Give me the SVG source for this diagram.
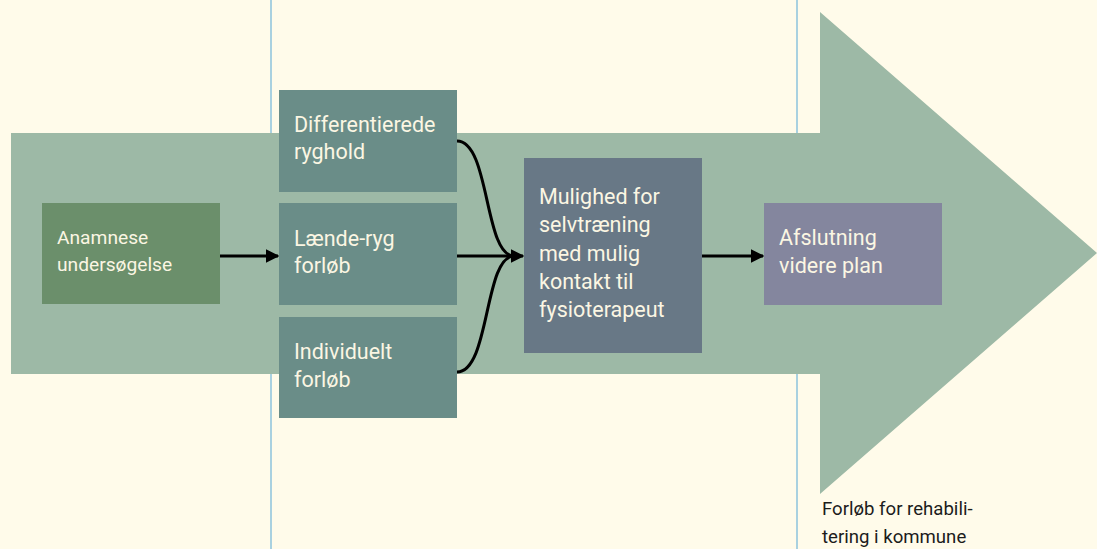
<svg xmlns="http://www.w3.org/2000/svg" width="1097" height="549" viewBox="0 0 1097 549">
<defs>
<style>
.bg{fill:#fffbea}
.vline{stroke:#8cc3dd;stroke-width:1.5;fill:none}
.big{fill:#9db9a6}
.t{font-family:Roboto,"Liberation Sans",sans-serif;fill:#fbf6e3}
.t18{font-size:21.5px}
.t16{font-size:19.2px}
.cap{font-family:Roboto,"Liberation Sans",sans-serif;font-size:18.6px;fill:#1c1c1c}
.edge{stroke:#000;stroke-width:3;fill:none}
</style>
<marker id="ah" viewBox="0 0 10 10" refX="9" refY="5" markerWidth="4.5" markerHeight="4.5" orient="auto" markerUnits="strokeWidth">
<path d="M0,0 L10,5 L0,10 z" fill="#000"/>
</marker>
</defs>
<rect class="bg" x="0" y="0" width="1097" height="549"/>
<g id="background">
<line class="vline" x1="271" y1="0" x2="271" y2="549"/>
<line class="vline" x1="797" y1="0" x2="797" y2="549"/>
<polygon class="big" points="11,133 820,133 820,12 1097,253 820,494 820,374 11,374"/>
</g>
<g id="n-anamnese">
<rect x="42" y="203" width="178" height="101" fill="#6b8f6b"/>
<text class="t t16" x="57" y="244">Anamnese</text>
<text class="t t16" x="57" y="271">undersøgelse</text>
</g>
<g id="n-differentierede">
<rect x="279" y="90" width="178" height="102" fill="#6a8d88"/>
<text class="t t18" x="294" y="132">Differentierede</text>
<text class="t t18" x="294" y="159">ryghold</text>
</g>
<g id="n-laende">
<rect x="279" y="203" width="178" height="102" fill="#6a8d88"/>
<text class="t t18" x="294" y="246">Lænde-ryg</text>
<text class="t t18" x="294" y="273">forløb</text>
</g>
<g id="n-individuelt">
<rect x="279" y="317" width="178" height="101" fill="#6a8d88"/>
<text class="t t18" x="294" y="359">Individuelt</text>
<text class="t t18" x="294" y="387">forløb</text>
</g>
<g id="n-mulighed">
<rect x="524" y="158" width="178" height="195" fill="#687886"/>
<text class="t t18" x="539" y="204">Mulighed for</text>
<text class="t t18" x="539" y="232">selvtræning</text>
<text class="t t18" x="539" y="261">med mulig</text>
<text class="t t18" x="539" y="289">kontakt til</text>
<text class="t t18" x="539" y="317">fysioterapeut</text>
</g>
<g id="n-afslutning">
<rect x="764" y="203" width="178" height="102" fill="#84869e"/>
<text class="t t18" x="779" y="245">Afslutning</text>
<text class="t t18" x="779" y="273">videre plan</text>
</g>
<g id="connectors">
<line class="edge" x1="220" y1="256" x2="278" y2="256" marker-end="url(#ah)"/>
<line class="edge" x1="457" y1="256" x2="523" y2="256" marker-end="url(#ah)"/>
<path class="edge" d="M457,141 C490,141 484,256 514,256"/>
<path class="edge" d="M457,372 C490,372 484,256 514,256"/>
<line class="edge" x1="702" y1="256" x2="763" y2="256" marker-end="url(#ah)"/>
</g>
<g id="caption">
<text class="cap" x="822" y="515">Forløb for rehabili-</text>
<text class="cap" x="822" y="543">tering i kommune</text>
</g>
</svg>
